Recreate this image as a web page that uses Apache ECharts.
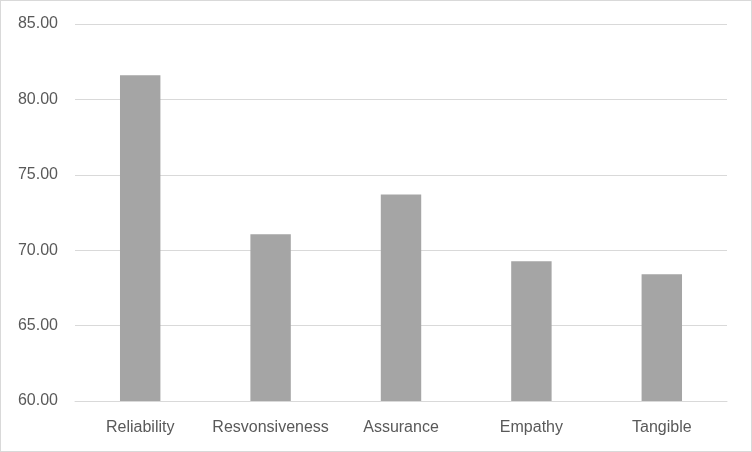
<!DOCTYPE html>
<html><head><meta charset="utf-8">
<script src="https://cdn.jsdelivr.net/npm/echarts@6/dist/echarts.min.js"></script>
<style>html,body{margin:0;padding:0;background:#fff}#c{width:752px;height:452px;box-sizing:border-box;border:1px solid #d9d9d9}</style>
</head><body><div id="c"></div>
<script>
const categories = ["Reliability", "Resvonsiveness", "Assurance", "Empathy", "Tangible"];
const values = [81.6, 71.06, 73.7, 69.27, 68.41];
const yMin = 60, yMax = 85, yStep = 5;
const chart = echarts.init(document.getElementById('c'), null, {renderer: 'canvas'});
const font = '"Liberation Sans", sans-serif';
chart.setOption({
  animation: false,
  grid: {left: 74, right: 24, top: 23, bottom: 50},
  xAxis: {
    type: 'category', data: categories,
    axisLine: {lineStyle: {color: '#d9d9d9', width: 1}},
    axisTick: {show: false},
    axisLabel: {color: '#595959', fontFamily: font, fontSize: 16, margin: 19, interval: 0}
  },
  yAxis: {
    type: 'value', min: yMin, max: yMax, interval: yStep,
    axisLine: {show: false}, axisTick: {show: false},
    splitLine: {lineStyle: {color: '#d9d9d9', width: 1}},
    axisLabel: {color: '#595959', fontFamily: font, fontSize: 16, margin: 17,
      formatter: v => v.toFixed(2)}
  },
  series: [{
    type: 'bar', data: values, barWidth: '31%',
    itemStyle: {color: '#a5a5a5'}
  }]
});
</script></body></html>
